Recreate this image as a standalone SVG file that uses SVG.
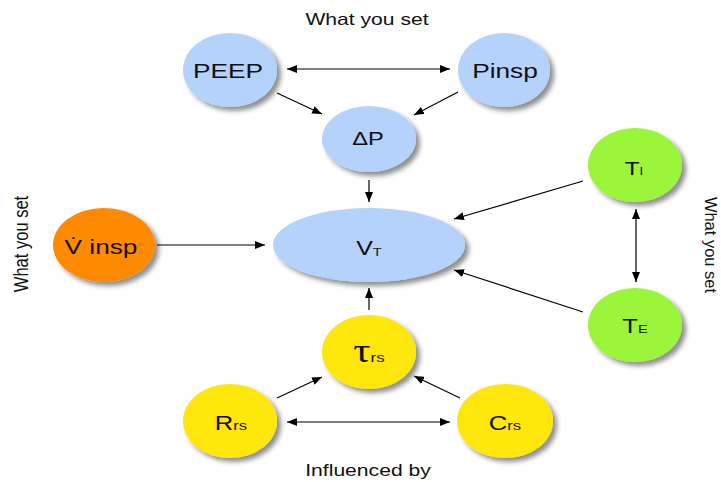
<svg xmlns="http://www.w3.org/2000/svg" width="721" height="482" viewBox="0 0 721 482">
<defs>
<filter id="sh" x="-20%" y="-20%" width="150%" height="150%">
<feGaussianBlur in="SourceAlpha" stdDeviation="2.5"/>
<feOffset dx="4" dy="4" result="b"/>
<feComponentTransfer><feFuncA type="linear" slope="0.45"/></feComponentTransfer>
<feMerge><feMergeNode/><feMergeNode in="SourceGraphic"/></feMerge>
</filter>
<marker id="ah" viewBox="0 0 10 8" refX="10" refY="4" markerWidth="10" markerHeight="8" markerUnits="userSpaceOnUse" orient="auto-start-reverse">
<path d="M0,0 L10,4 L0,8 z" fill="#000"/>
</marker>
</defs>
<style>
.blue{fill:#b4d2fc}
.orange{fill:#ff8a00}
.green{fill:#9af53a}
.yellow{fill:#ffe60a}
text{font-family:"Liberation Sans",Arial,sans-serif;fill:#111}
.lab{font-size:21px;text-anchor:middle}
.cap{font-size:16.5px;text-anchor:middle}
.c{stroke:#000;stroke-width:1.2;fill:none}
.a{marker-end:url(#ah)}
.b{marker-start:url(#ah);marker-end:url(#ah)}
</style>

<text class="cap" transform="translate(367,25) scale(1.28,1)">What you set</text>
<text class="cap" transform="translate(368,476) scale(1.28,1)">Influenced by</text>
<text class="cap" transform="translate(28,244) scale(1.2,1) rotate(-90)">What you set</text>
<text class="cap" transform="translate(705,245) scale(1.05,1) rotate(90)">What you set</text>

<g id="connectors">
<line class="c b" x1="287" y1="69" x2="450" y2="69"/>
<line class="c a" x1="277" y1="93" x2="322" y2="114"/>
<line class="c a" x1="458" y1="92" x2="414" y2="115"/>
<line class="c a" x1="369" y1="180" x2="369" y2="202"/>
<line class="c a" x1="157" y1="245" x2="265" y2="245"/>
<line class="c a" x1="583" y1="181" x2="454" y2="219"/>
<line class="c a" x1="583" y1="312" x2="454" y2="270"/>
<line class="c b" x1="636" y1="209" x2="636" y2="282"/>
<line class="c a" x1="369" y1="310" x2="369" y2="288"/>
<line class="c a" x1="277" y1="398" x2="322" y2="377"/>
<line class="c a" x1="460" y1="398" x2="414" y2="376"/>
<line class="c b" x1="287" y1="422" x2="450" y2="422"/>
</g>

<g id="peep">
<ellipse class="blue" filter="url(#sh)" cx="230" cy="70" rx="47" ry="37"/>
<text class="lab" transform="translate(228,78) scale(1.25,1)">PEEP</text>
</g>
<g id="pinsp">
<ellipse class="blue" filter="url(#sh)" cx="504" cy="70" rx="46" ry="37"/>
<text class="lab" transform="translate(505,78) scale(1.25,1)">Pinsp</text>
</g>
<g id="deltap">
<ellipse class="blue" filter="url(#sh)" cx="369" cy="139" rx="47" ry="33"/>
<text class="lab" style="font-size:18.5px" transform="translate(368,145) scale(1.28,1)">ΔP</text>
</g>
<g id="vt">
<ellipse class="blue" filter="url(#sh)" cx="369" cy="245" rx="96" ry="37"/>
<text class="lab" style="font-size:19.5px" transform="translate(369,255) scale(1.28,1)">V<tspan style="font-size:11.5px" dy="1">T</tspan></text>
</g>
<g id="vinsp">
<ellipse class="orange" filter="url(#sh)" cx="104" cy="245" rx="51" ry="37"/>
<text class="lab" transform="translate(101,254) scale(1.25,1)">V̇ insp</text>
</g>
<g id="ti">
<ellipse class="green" filter="url(#sh)" cx="635" cy="165" rx="47" ry="37"/>
<text class="lab" style="font-size:19px" transform="translate(634,175) scale(1.28,1)">T<tspan style="font-size:10.5px">I</tspan></text>
</g>
<g id="te">
<ellipse class="green" filter="url(#sh)" cx="635" cy="325" rx="47" ry="37"/>
<text class="lab" style="font-size:20px" transform="translate(635,333) scale(1.28,1)">T<tspan style="font-size:11.5px">E</tspan></text>
</g>
<g id="tau">
<ellipse class="yellow" filter="url(#sh)" cx="369" cy="352" rx="47" ry="37"/>
<text class="lab" style="font-size:31px" transform="translate(369,362) scale(1.3,1)"><tspan style="font-family:'Liberation Serif',serif;font-size:33px">τ</tspan><tspan style="font-size:13px">rs</tspan></text>
</g>
<g id="rrs">
<ellipse class="yellow" filter="url(#sh)" cx="230" cy="421" rx="47" ry="37"/>
<text class="lab" style="font-size:20px" transform="translate(231,430) scale(1.28,1)">R<tspan style="font-size:13px">rs</tspan></text>
</g>
<g id="crs">
<ellipse class="yellow" filter="url(#sh)" cx="505" cy="421" rx="48" ry="37"/>
<text class="lab" style="font-size:20px" transform="translate(505,430) scale(1.28,1)">C<tspan style="font-size:13px">rs</tspan></text>
</g>
</svg>
